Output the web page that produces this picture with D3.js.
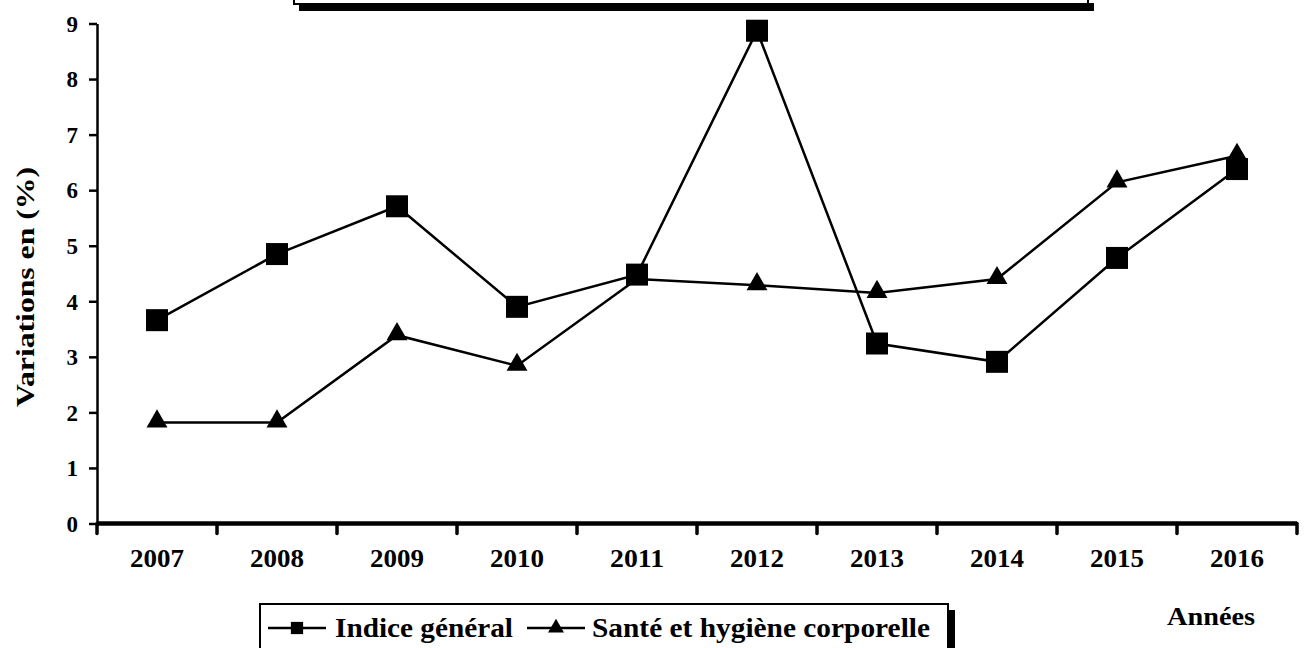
<!DOCTYPE html>
<html>
<head>
<meta charset="utf-8">
<script src="https://cdn.jsdelivr.net/npm/d3@7"></script>
<style>
  body { margin: 0; background: #fff; }
  svg { display: block; font-family: "Liberation Serif", "Times New Roman", serif; font-weight: bold; }
  .axis path, .axis line { stroke: #000; }
  .axis text { fill: #000; font-family: "Liberation Serif", "Times New Roman", serif; font-weight: bold; }
</style>
</head>
<body>
<svg id="chart" width="1309" height="648"></svg>
<script>
// data
var years = ["2007", "2008", "2009", "2010", "2011", "2012", "2013", "2014", "2015", "2016"];
var indiceGeneral = [3.66, 4.85, 5.71, 3.90, 4.48, 8.87, 3.24, 2.91, 4.78, 6.38];
var santeHygiene = [1.82, 1.82, 3.39, 2.84, 4.40, 4.29, 4.15, 4.40, 6.14, 6.62];
var yTicks = [0, 1, 2, 3, 4, 5, 6, 7, 8, 9];

(function() {
  var svg = d3.select("#chart");

  var mLeft = 97, mRight = 1297, mTop = 23.5, mBottom = 523.5;

  var x = d3.scaleBand().domain(years).range([mLeft, mRight]);
  var y = d3.scaleLinear().domain([0, 9]).range([mBottom, mTop]);
  var cx = function(d) { return x(d) + x.bandwidth() / 2; };

  // frame box cut off at the top (title box)
  svg.append("rect").attr("x", 299).attr("y", 3).attr("width", 795).attr("height", 8).attr("fill", "#000");
  svg.append("rect").attr("x", 294).attr("y", -40).attr("width", 794).attr("height", 44)
    .attr("fill", "#fff").attr("stroke", "#000").attr("stroke-width", 2);

  // y axis
  var yAxis = svg.append("g")
    .attr("class", "axis")
    .attr("transform", "translate(" + mLeft + ",0)")
    .call(d3.axisLeft(y).tickValues(yTicks).tickSize(8).tickPadding(11).tickSizeOuter(0));
  yAxis.select(".domain").attr("stroke-width", 2.5);
  yAxis.selectAll(".tick line").attr("stroke-width", 2.5);
  yAxis.selectAll("text").style("font-size", "23px").attr("dy", "0.34em");

  // x axis: labels centred in bands, ticks on band edges
  var xAxis = svg.append("g")
    .attr("class", "axis")
    .attr("transform", "translate(0," + mBottom + ")")
    .call(d3.axisBottom(x).tickSize(0).tickPadding(26));
  xAxis.select(".domain").remove();
  xAxis.selectAll("text").style("font-size", "25px")
    .attr("textLength", 54).attr("lengthAdjust", "spacingAndGlyphs");

  svg.append("line")
    .attr("x1", mLeft).attr("x2", mRight)
    .attr("y1", mBottom).attr("y2", mBottom)
    .attr("stroke", "#000").attr("stroke-width", 4.5);

  var edges = years.map(function(d) { return x(d); }).concat([mRight]);
  svg.selectAll(".xtick").data(edges).enter().append("line")
    .attr("class", "xtick")
    .attr("x1", function(d) { return d; }).attr("x2", function(d) { return d; })
    .attr("y1", mBottom).attr("y2", mBottom + 10)
    .attr("stroke", "#000").attr("stroke-width", 3.5).attr("stroke-linecap", "round");

  // axis titles
  svg.append("text")
    .attr("transform", "translate(34,287) rotate(-90)")
    .attr("text-anchor", "middle")
    .attr("textLength", 240).attr("lengthAdjust", "spacingAndGlyphs")
    .style("font-size", "26px")
    .text("Variations en (%)");

  svg.append("text")
    .attr("x", 1211).attr("y", 625)
    .attr("text-anchor", "middle")
    .attr("textLength", 88).attr("lengthAdjust", "spacingAndGlyphs")
    .style("font-size", "26px")
    .text("Années");

  // lines
  var line = d3.line()
    .x(function(d, i) { return cx(years[i]); })
    .y(function(d) { return y(d); });

  svg.append("path").datum(santeHygiene)
    .attr("d", line).attr("fill", "none").attr("stroke", "#000").attr("stroke-width", 2.5);
  svg.append("path").datum(indiceGeneral)
    .attr("d", line).attr("fill", "none").attr("stroke", "#000").attr("stroke-width", 2.5);

  var tri = d3.symbol().type(d3.symbolTriangle).size(190);
  var sq = d3.symbol().type(d3.symbolSquare).size(484);

  svg.selectAll(".tri").data(santeHygiene).enter().append("path")
    .attr("class", "tri")
    .attr("d", tri)
    .attr("transform", function(d, i) { return "translate(" + cx(years[i]) + "," + (y(d) - 1) + ")"; })
    .attr("fill", "#000");

  svg.selectAll(".sq").data(indiceGeneral).enter().append("path")
    .attr("class", "sq")
    .attr("d", sq)
    .attr("transform", function(d, i) { return "translate(" + cx(years[i]) + "," + y(d) + ")"; })
    .attr("fill", "#000");

  // legend
  var legend = svg.append("g");
  legend.append("rect").attr("x", 948).attr("y", 610).attr("width", 7).attr("height", 50).attr("fill", "#000");
  legend.append("rect").attr("x", 260).attr("y", 604).attr("width", 688).attr("height", 60)
    .attr("fill", "#fff").attr("stroke", "#000").attr("stroke-width", 2);

  var entries = [
    { name: "Indice général", sym: d3.symbol().type(d3.symbolSquare).size(150), x0: 268, tx: 335, len: 178 },
    { name: "Santé et hygiène corporelle", sym: d3.symbol().type(d3.symbolTriangle).size(110), x0: 527, tx: 592, len: 338 }
  ];
  entries.forEach(function(e) {
    legend.append("line")
      .attr("x1", e.x0).attr("x2", e.x0 + 58)
      .attr("y1", 628).attr("y2", 628)
      .attr("stroke", "#000").attr("stroke-width", 2.5);
    legend.append("path").attr("d", e.sym)
      .attr("transform", "translate(" + (e.x0 + 29) + ",628)").attr("fill", "#000");
    legend.append("text")
      .attr("x", e.tx).attr("y", 637)
      .attr("textLength", e.len).attr("lengthAdjust", "spacingAndGlyphs")
      .style("font-size", "27px")
      .text(e.name);
  });
})();
</script>
</body>
</html>
